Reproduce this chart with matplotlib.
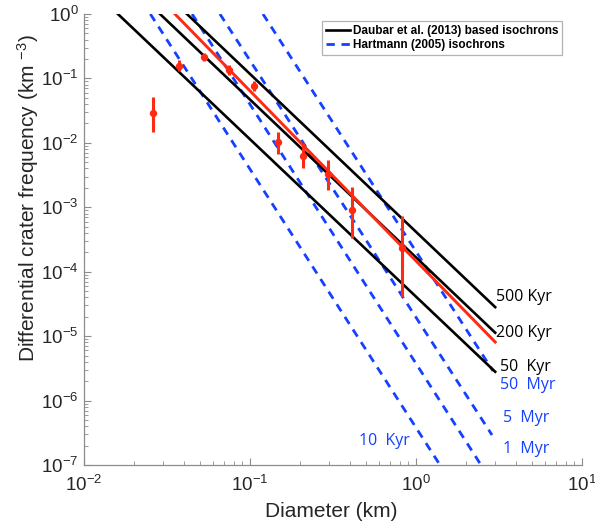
import matplotlib
matplotlib.use("Agg")
import matplotlib.pyplot as plt
import numpy as np

plt.rcParams['font.family'] = ['Liberation Sans', 'DejaVu Sans']
plt.rcParams['mathtext.fontset'] = 'custom'
plt.rcParams['mathtext.rm'] = 'Liberation Sans'
plt.rcParams['mathtext.it'] = 'Liberation Sans:italic'

# --- Data ---
# Observed crater counts
diam = [0.026, 0.0372, 0.0526, 0.0743, 0.105, 0.148, 0.2095, 0.296, 0.413, 0.824]
freq = [0.029, 0.158, 0.215, 0.135, 0.0762, 0.0103, 0.00624, 0.00328, 0.000905, 0.000232]
freq_hi = [0.0514, 0.19, 0.248, 0.16, 0.0911, 0.0147, 0.00993, 0.0054, 0.00206, 0.00073]
freq_lo = [0.0147, 0.13, 0.188, 0.112, 0.0637, 0.0067, 0.00406, 0.00185, 0.000333, 4.0e-5]

# Fit line (red)
fit_D = [0.0353, 3.0]
fit_N = [1.0, 8.1e-6]

# Daubar et al. (2013) based isochrons (black)
daubar_labels = ["50  Kyr", "200 Kyr", "500 Kyr"]
daubar_D_start = [0.0160, 0.0287, 0.0417]
daubar_D_end = [3.0, 3.0, 3.0]
daubar_N_start = [1.0, 1.0, 1.0]
daubar_N_end = [2.8e-6, 1.13e-5, 2.82e-5]

# Hartmann (2005) isochrons (blue dashed)
hart_labels = ["10  Kyr", "1  Myr", "5  Myr", "50  Myr"]
hart_D_start = [0.0251, 0.0448, 0.0659, 0.1197]
hart_D_end = [1.395, 2.464, 2.87, 2.91]
hart_N_start = [1.0, 1.0, 1.0, 1.0]
hart_N_end = [1e-7, 1e-7, 2.92e-7, 2.88e-6]

RED = '#ff2a12'
BLUE = '#1440ff'
GRAY = '#8c8c8c'
TXT = '#262626'

fig = plt.figure(figsize=(5.95, 5.29), dpi=100)
ax = fig.add_axes([84/595, 64/529, 498/595, 451/529])

for i in range(len(hart_labels)):
    ax.plot([hart_D_start[i], hart_D_end[i]], [hart_N_start[i], hart_N_end[i]],
            color=BLUE, lw=2.0, linestyle=(0, (3, 2.4)),
            label="Hartmann (2005) isochrons" if i == 0 else None, zorder=2)

for i in range(len(daubar_labels)):
    ax.plot([daubar_D_start[i], daubar_D_end[i]], [daubar_N_start[i], daubar_N_end[i]],
            color='black', lw=1.9,
            label="Daubar et al. (2013) based isochrons" if i == 0 else None, zorder=3)

ax.plot(fit_D, fit_N, color=RED, lw=2.1, zorder=4)

d = np.array(diam)
f = np.array(freq)
yerr = np.vstack([f - np.array(freq_lo), np.array(freq_hi) - f])
ax.errorbar(d, f, yerr=yerr, fmt='o', color=RED, ms=4.3, elinewidth=2.2,
            capsize=0, zorder=5)

ax.set_xscale('log')
ax.set_yscale('log')
ax.set_xlim(1e-2, 1e1)
ax.set_ylim(1e-7, 1e0)

for s in ['top', 'right']:
    ax.spines[s].set_visible(False)
for s in ['left', 'bottom']:
    ax.spines[s].set_color(GRAY)
    ax.spines[s].set_linewidth(0.9)

ax.tick_params(which='both', direction='in', color=GRAY, labelcolor=TXT)
ax.tick_params(which='major', length=5, width=0.8, labelsize=13.5)
ax.tick_params(which='minor', length=3, width=0.6)
ax.tick_params(axis='x', which='major', pad=7)
ax.tick_params(axis='y', which='major', pad=4)
ax.yaxis.set_major_locator(matplotlib.ticker.LogLocator(base=10, numticks=12))
ax.yaxis.set_minor_locator(matplotlib.ticker.LogLocator(base=10, subs=np.arange(2, 10), numticks=12))
ax.yaxis.set_minor_formatter(matplotlib.ticker.NullFormatter())
ax.xaxis.set_minor_formatter(matplotlib.ticker.NullFormatter())

ax.set_xlabel("Diameter (km)", fontsize=15, color=TXT, va='center')
ax.xaxis.set_label_coords(0.496, -0.104)
ax.set_ylabel("Differential crater frequency (km $^{-3}$)", fontsize=15, color=TXT,
              va='center')
ax.yaxis.set_label_coords(-0.112, 0.592)

# Isochron labels
lab_font = dict(family=['Open Sans', 'DejaVu Sans'], fontsize=11.5, va='center', ha='left')
ax.text(3.03, 4.05e-5, daubar_labels[2], color='black', **lab_font)
ax.text(3.03, 1.12e-5, daubar_labels[1], color='black', **lab_font)
ax.text(3.21, 3.3e-6, daubar_labels[0], color='black', **lab_font)
ax.text(3.21, 1.75e-6, hart_labels[3], color=BLUE, **lab_font)
ax.text(3.34, 5.37e-7, hart_labels[2], color=BLUE, **lab_font)
ax.text(3.34, 1.77e-7, hart_labels[1], color=BLUE, **lab_font)
ax.text(0.454, 2.36e-7, hart_labels[0], color=BLUE, **lab_font)

handles, labels = ax.get_legend_handles_labels()
order = [labels.index("Daubar et al. (2013) based isochrons"), labels.index("Hartmann (2005) isochrons")]
leg = ax.legend([handles[k] for k in order], [labels[k] for k in order],
                loc='upper left', bbox_to_anchor=(0.478, 0.985),
                prop=dict(weight='bold', size=8.5), frameon=True, fancybox=False,
                handlelength=2.0, handletextpad=0.25, borderpad=0.35,
                labelspacing=0.2, borderaxespad=0)
leg.get_frame().set_edgecolor('#a0a0a0')
leg.get_frame().set_linewidth(0.9)

fig.savefig("out.png", dpi=100)
